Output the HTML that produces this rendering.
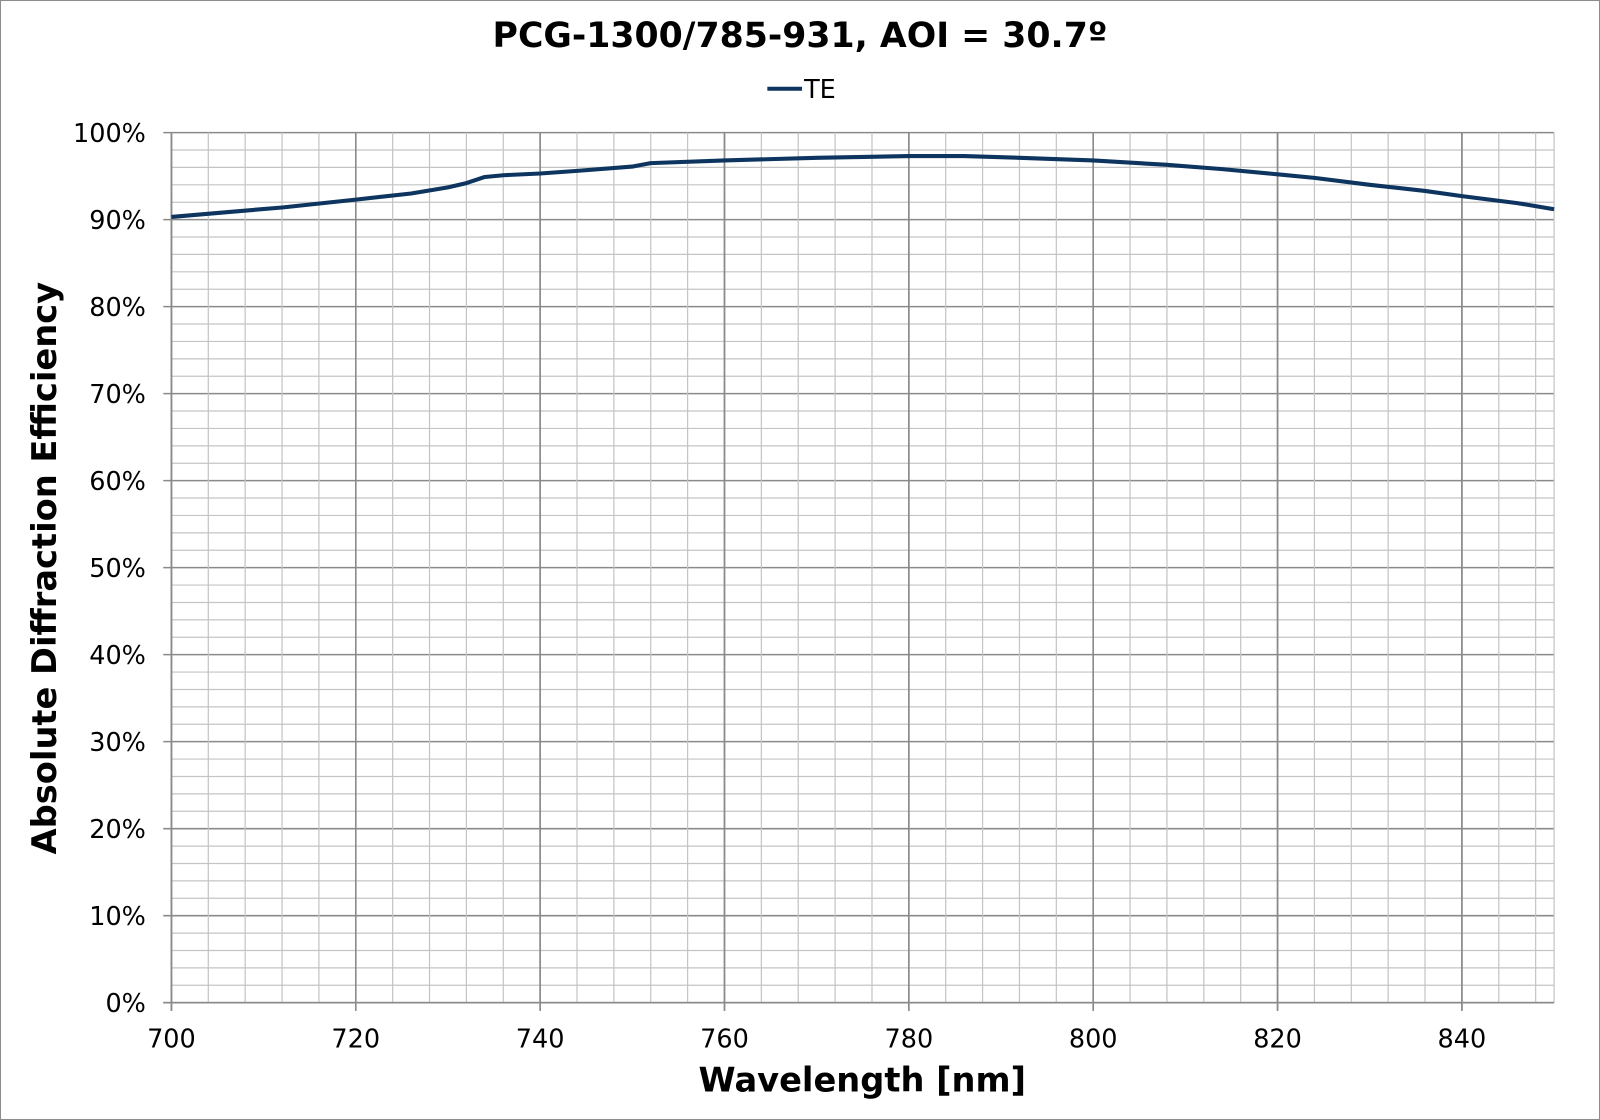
<!DOCTYPE html>
<html><head><meta charset="utf-8"><style>
html,body{margin:0;padding:0;background:#fff;}
svg{display:block;}
</style></head><body>
<svg width="1600" height="1120" viewBox="0 0 1568 1098" preserveAspectRatio="none" xmlns="http://www.w3.org/2000/svg" font-family="'DejaVu Sans','Liberation Sans',sans-serif">
<rect x="0.5" y="0.5" width="1567" height="1097" fill="#fff" stroke="#8c8c8c" stroke-width="1"/>
<g id="grid"></g>
<text x="784" y="46" text-anchor="middle" font-size="34" font-weight="bold" fill="#000">PCG-1300/785-931, AOI = 30.7º</text>
<line x1="752" y1="87" x2="786" y2="87" stroke="#0d3560" stroke-width="4"/>
<text x="788" y="96" font-size="25" fill="#000">TE</text>
<text x="845" y="1070" text-anchor="middle" font-size="33" font-weight="bold">Wavelength [nm]</text>
<text transform="translate(55,557) rotate(-90)" text-anchor="middle" font-size="33" font-weight="bold">Absolute Diffraction Efficiency</text>
<g id="data"></g>
</svg>
<script>
var ns="http://www.w3.org/2000/svg",g=document.getElementById('grid');
function X(n){return 168+(n-700)*(1523-168)/150;}
function Y(p){return 983-p*8.53;}
function L(x1,y1,x2,y2,c,w){var l=document.createElementNS(ns,'line');l.setAttribute('x1',x1);l.setAttribute('y1',y1);l.setAttribute('x2',x2);l.setAttribute('y2',y2);l.setAttribute('stroke',c);l.setAttribute('stroke-width',w);g.appendChild(l);}
function T(x,y,s,a){var t=document.createElementNS(ns,'text');t.setAttribute('x',x);t.setAttribute('y',y);t.setAttribute('font-size',25);t.setAttribute('text-anchor',a);t.textContent=s;g.appendChild(t);}
for(var p=0;p<=100;p+=2){var maj=p%10==0;L(maj?160:168,Y(p),1523,Y(p),maj?'#8a8a8a':'#c4c4c4',maj?1.5:1.2);if(maj)T(143,Y(p)+9,p+'%','end');}
for(var n=700;n<=850;n+=4){var maj=(n-700)%20==0;L(X(n),130,X(n),maj?991:983,maj?'#8a8a8a':'#c4c4c4',maj?1.5:1.2);}
for(var n=700;n<=840;n+=20){L(X(n),130,X(n),991,'#8a8a8a',1.5);T(X(n),1027,n,'middle');}
L(X(850),130,X(850),983,'#c4c4c4',1.2);
L(168,130,168,991,'#8a8a8a',1.5);L(160,983,1523,983,'#8a8a8a',1.5);
var d=[[700,90.3],[706,90.85],[712,91.4],[720,92.3],[726,93],[730,93.7],[732,94.2],[734,94.9],[736,95.1],[740,95.3],[744,95.6],[750,96.1],[752,96.5],[760,96.8],[770,97.1],[780,97.3],[786,97.3],[792,97.1],[800,96.8],[808,96.3],[814,95.8],[820,95.2],[824,94.8],[830,94],[836,93.3],[840,92.7],[846,91.9],[850,91.2]];
var s='';d.forEach(function(q,i){s+=(i?'L':'M')+X(q[0]).toFixed(1)+','+Y(q[1]).toFixed(1);});
var pa=document.createElementNS(ns,'path');pa.setAttribute('d',s);pa.setAttribute('fill','none');pa.setAttribute('stroke','#0d3560');pa.setAttribute('stroke-width',4);pa.setAttribute('stroke-linejoin','round');document.getElementById('data').appendChild(pa);
</script>
</body></html>
